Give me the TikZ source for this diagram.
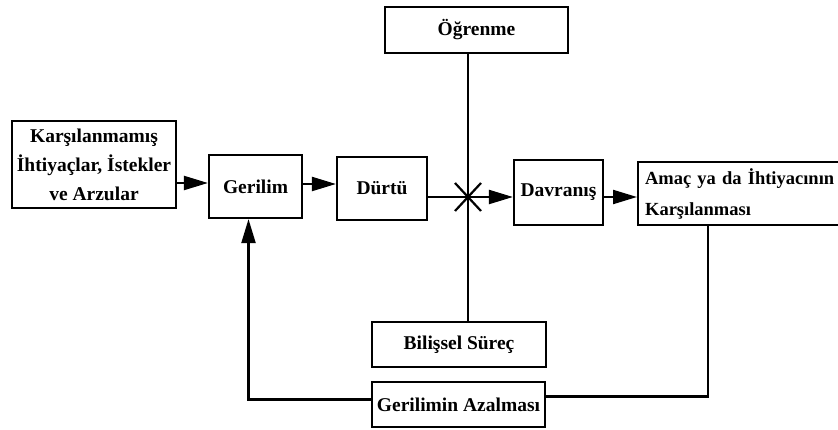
\documentclass[tikz,border=0pt]{standalone}
\usepackage{fontspec}
\setmainfont{Liberation Serif}
\usetikzlibrary{arrows.meta,calc}
\begin{document}
\begin{tikzpicture}[x=1pt,y=-1pt,
  box/.style={draw,line width=2.2pt,inner sep=0pt,align=center,font=\fontsize{19.5}{29}\selectfont\bfseries},
  conn/.style={line width=2.2pt},
  arr/.style={conn,-{Triangle[length=24pt,width=14pt]}}]
\clip (0,0) rectangle (838,430);
\fill[white] (0,0) rectangle (838,430);
\node[box,minimum width=164,minimum height=87] (K) at (94,164.5) {Karşılanmamış\\İhtiyaçlar, İstekler\\ve Arzular};
\node[box,minimum width=93,minimum height=63] (G) at (255.5,186.5) {Gerilim};
\node[box,minimum width=90,minimum height=63] (D) at (382,188.5) {Dürtü};
\node[box,minimum width=89,minimum height=65] (V) at (558.5,192.5) {Davranış};
\node[box,anchor=west,minimum height=63,inner xsep=7pt,text width=215,align=left,font=\fontsize{18.5}{31}\selectfont\bfseries] (A) at (637,193.5) {Amaç ya da İhtiyacının\\Karşılanması};
\node[box,minimum width=183,minimum height=46] (O) at (476.5,30) {Öğrenme};
\node[box,minimum width=174,minimum height=45] (B) at (459,344.5) {Bilişsel Süreç};
\node[box,minimum width=173,minimum height=45] (R) at (458.5,404.5) {Gerilimin Azalması};
\coordinate (X) at (468,197);
\coordinate (AF) at (708,0);
% main flow
\draw[arr] (K.east |- 0,183) -- (G.west |- 0,183);
\draw[arr] (G.east |- 0,184) -- (D.west |- 0,184);
\draw[arr] (D.east |- X) -- (V.west |- X);
\draw[arr] (V.east |- X) -- (A.west |- X);
% vertical line and cross
\draw[conn] (O.south -| X) -- (B.north -| X);
\draw[conn] ($(X)+(-13,-14)$) -- ($(X)+(13,14)$);
\draw[conn] ($(X)+(-13,14)$) -- ($(X)+(13,-14)$);
% feedback
\draw[arr] ([yshift=5]R.west) -| ([xshift=-7]G.south);
\draw[conn] ([yshift=8]R.east) -| (A.south -| AF);
\end{tikzpicture}
\end{document}
